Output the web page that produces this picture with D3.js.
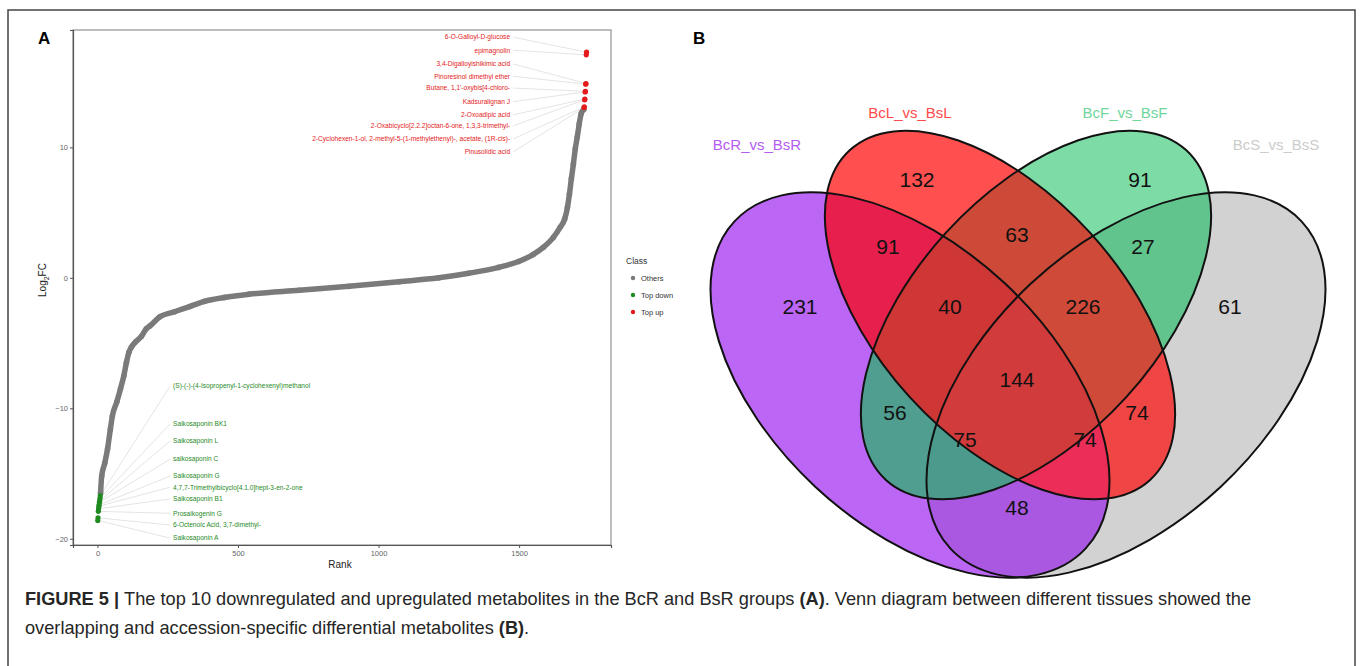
<!DOCTYPE html>
<html>
<head>
<meta charset="utf-8">
<script src="https://d3js.org/d3.v7.min.js"></script>
<style>
  body { margin: 0; background: #fff; }
  text { font-family: "Liberation Sans", Arial, sans-serif; }
</style>
</head>
<body>
<script>
// ---------- panel A data ----------
// ranked log2FC of "Others" (points along the S curve)
let otherRank = [11, 15, 26, 36, 46, 53, 69, 82, 94, 103, 112, 121, 136, 156, 174, 186, 221, 274, 328, 381,
                 452, 540, 718, 895, 1073, 1214, 1321, 1427, 1498, 1551, 1587, 1622, 1647, 1662, 1672,
                 1679, 1686, 1693, 1700, 1707, 1714, 1721, 1730];
let otherFC = [-16.5, -15.2, -14.2, -13.1, -11.6, -10.6, -9.5, -8.5, -7.5, -6.5, -5.7, -5.3, -4.9, -4.5, -3.9, -3.7,
               -3.0, -2.6, -2.2, -1.8, -1.5, -1.25, -0.95, -0.65, -0.3, 0, 0.35, 0.8, 1.25, 1.8, 2.35, 3.1,
               3.9, 4.5, 5.4, 6.4, 7.6, 8.7, 9.9, 10.8, 11.8, 12.6, 12.9];

let downNames = ["(S)-(-)-(4-Isopropenyl-1-cyclohexenyl)methanol", "Saikosaponin BK1", "Saikosaponin L",
                 "saikosaponin C", "Saikosaponin G", "4,7,7-Trimethylbicyclo[4.1.0]hept-3-en-2-one",
                 "Saikosaponin B1", "Prosaikogenin G", "6-Octenoic Acid, 3,7-dimethyl-", "Saikosaponin A"];
let downRank = [10, 9, 8, 7, 6, 5, 4, 3, 2, 1];
let downFC = [-16.7, -16.9, -17.1, -17.2, -17.4, -17.5, -17.7, -17.9, -18.4, -18.6];
let downLabelFC = [-8.3, -11.2, -12.5, -13.9, -15.2, -16.05, -16.95, -18.05, -18.95, -19.95];

let upNames = ["6-O-Galloyl-D-glucose", "epimagnolin", "3,4-Digalloylshikimic acid", "Pinoresinol dimethyl ether",
               "Butane, 1,1'-oxybis[4-chloro-", "Kadsuralignan J", "2-Oxoadipic acid",
               "2-Oxabicyclo[2.2.2]octan-6-one, 1,3,3-trimethyl-",
               "2-Cyclohexen-1-ol, 2-methyl-5-(1-methylethenyl)-, acetate, (1R-cis)-", "Pinusolidic acid"];
let upRank = [1740, 1739, 1738, 1737, 1736, 1735, 1734, 1733, 1732, 1731];
let upFC = [17.3, 17.1, 14.9, 14.85, 14.3, 14.25, 13.7, 13.65, 13.1, 13.05];
let upLabelFC = [18.45, 17.45, 16.4, 15.45, 14.55, 13.5, 12.5, 11.65, 10.65, 9.65];

let xTicks = [0, 500, 1000, 1500];
let yTicks = [-20, -10, 0, 10];
let classNames = ["Others", "Top down", "Top up"];

// ---------- panel B data ----------
let setNames = ["BcR_vs_BsR", "BcL_vs_BsL", "BcF_vs_BsF", "BcS_vs_BsS"];
let regions = ["R", "L", "F", "S", "RL", "LF", "FS", "RF", "LS", "RS", "RLF", "LFS", "RFS", "RLS", "RLFS"];
let counts = [231, 132, 91, 61, 91, 63, 27, 56, 74, 48, 40, 226, 75, 74, 144];

// ---------- styles ----------
const colOther = "#7a7a7a", colDown = "#1f8a1f", colUp = "#e41a1c";
const setColors = {R: "#bb66f5", L: "#ff4f4f", F: "#7ddca5", S: "#d2d2d2"};
const setTextColors = ["#b55cf2", "#ff4a4a", "#6fd69c", "#cccccc"];
const regionColors = {
  RL: "#e61f4d", LF: "#cd4a38", FS: "#62c48d", RF: "#4f9e8f", LS: "#ef4545", RS: "#aa58e2",
  RLF: "#cf3636", LFS: "#cf4a38", RFS: "#4c9a8c", RLS: "#ec2d57", RLFS: "#d23b3b"
};

let svg = d3.select("body").append("svg")
  .attr("width", 1360)
  .attr("height", 666);

// outer figure frame
svg.append("path")
  .attr("d", "M8,666V10H1355V666")
  .attr("fill", "none")
  .attr("stroke", "#444")
  .attr("stroke-width", 1.5);

// panel letters
svg.append("text").attr("x", 38).attr("y", 44).attr("font-size", 17).attr("font-weight", "bold").text("A");
svg.append("text").attr("x", 693).attr("y", 44).attr("font-size", 17).attr("font-weight", "bold").text("B");

// ================= PANEL A =================
let x = d3.scaleLinear().domain([-87, 1827]).range([73, 611]);
let y = d3.scaleLinear().domain([-20.48, 19.0]).range([545, 30]);

let gA = svg.append("g");

gA.append("rect")
  .attr("x", 73).attr("y", 30).attr("width", 538).attr("height", 515)
  .attr("fill", "#fff").attr("stroke", "#9a9a9a").attr("stroke-width", 1.3);

let xAxis = gA.append("g").attr("transform", "translate(0,545)")
  .call(d3.axisBottom(x).tickValues(xTicks).tickFormat(d3.format("d")).tickSize(3).tickPadding(3));
let yAxis = gA.append("g").attr("transform", "translate(73,0)")
  .call(d3.axisLeft(y).tickValues(yTicks).tickFormat(d3.format("d")).tickSize(3).tickPadding(2));
[xAxis, yAxis].forEach(ax => {
  ax.select(".domain").attr("stroke", "#555").attr("stroke-width", 1.2);
  ax.selectAll(".tick line").attr("stroke", "#555");
  ax.selectAll(".tick text").attr("fill", "#666").attr("font-size", 7.5)
    .attr("font-family", "Liberation Sans, Arial, sans-serif");
});

gA.append("text").attr("x", 340).attr("y", 568).attr("text-anchor", "middle")
  .attr("font-size", 10).attr("fill", "#222").text("Rank");

let yt = gA.append("text").attr("transform", "translate(46,280) rotate(-90)")
  .attr("text-anchor", "middle").attr("font-size", 10).attr("fill", "#222");
yt.append("tspan").text("Log");
yt.append("tspan").attr("font-size", 7).attr("dy", 3).text("2");
yt.append("tspan").attr("dy", -3).text("FC");

// connector segments
let labelEndRank = 1468, labelStartRank = 269;
upNames.forEach((n, i) => {
  gA.append("line")
    .attr("x1", x(labelEndRank) + 3).attr("y1", y(upLabelFC[i]))
    .attr("x2", x(upRank[i])).attr("y2", y(upFC[i]))
    .attr("stroke", "#d8d8d8").attr("stroke-width", 0.7);
});
downNames.forEach((n, i) => {
  gA.append("line")
    .attr("x1", x(labelStartRank) - 3).attr("y1", y(downLabelFC[i]))
    .attr("x2", x(downRank[i])).attr("y2", y(downFC[i]))
    .attr("stroke", "#d8d8d8").attr("stroke-width", 0.7);
});

// the "Others" band
let otherPts = otherRank.map((r, i) => [r, otherFC[i]]);
let line = d3.line().x(d => x(d[0])).y(d => y(d[1])).curve(d3.curveMonotoneX);
gA.append("path").datum(otherPts)
  .attr("d", line)
  .attr("fill", "none").attr("stroke", colOther).attr("stroke-width", 5.5)
  .attr("stroke-linecap", "round").attr("stroke-linejoin", "round");
gA.selectAll("circle.other").data(otherPts).join("circle")
  .attr("class", "other")
  .attr("cx", d => x(d[0])).attr("cy", d => y(d[1])).attr("r", 2.8).attr("fill", colOther);

gA.selectAll("circle.down").data(downRank).join("circle")
  .attr("class", "down")
  .attr("cx", d => x(d)).attr("cy", (d, i) => y(downFC[i])).attr("r", 2.6).attr("fill", colDown);
gA.selectAll("circle.up").data(upRank).join("circle")
  .attr("class", "up")
  .attr("cx", d => x(d)).attr("cy", (d, i) => y(upFC[i])).attr("r", 2.6).attr("fill", colUp);

// labels
gA.selectAll("text.up").data(upNames).join("text")
  .attr("class", "up")
  .attr("x", x(labelEndRank)).attr("y", (d, i) => y(upLabelFC[i]))
  .attr("dy", "0.35em").attr("text-anchor", "end")
  .attr("font-size", 6.6).attr("fill", colUp).text(d => d);
gA.selectAll("text.down").data(downNames).join("text")
  .attr("class", "down")
  .attr("x", x(labelStartRank)).attr("y", (d, i) => y(downLabelFC[i]))
  .attr("dy", "0.35em")
  .attr("font-size", 6.6).attr("fill", colDown).text(d => d);

// legend
let leg = svg.append("g").attr("transform", "translate(626,0)");
leg.append("text").attr("x", 0).attr("y", 264).attr("font-size", 8.5).attr("fill", "#333").text("Class");
[colOther, colDown, colUp].forEach((c, i) => {
  leg.append("circle").attr("cx", 7).attr("cy", 278 + i * 17).attr("r", 2.2).attr("fill", c);
  leg.append("text").attr("x", 15).attr("y", 278 + i * 17).attr("dy", "0.35em")
    .attr("font-size", 7.5).attr("fill", "#333").text(classNames[i]);
});

// ================= PANEL B =================
const axisX = 1018;
const ellR = {cx: 910, cy: 385, a: 240, b: 139, ang: 43};
const ellL = {cx: 1000, cy: 315, a: 223, b: 122, ang: 47.7};
const mirror = e => ({cx: 2 * axisX - e.cx, cy: e.cy, a: e.a, b: e.b, ang: 180 - e.ang});
const ells = {R: ellR, L: ellL, F: mirror(ellL), S: mirror(ellR)};

let defs = svg.append("defs");
Object.keys(ells).forEach(k => {
  let e = ells[k];
  defs.append("clipPath").attr("id", "clip" + k)
    .append("ellipse")
    .attr("cx", 0).attr("cy", 0).attr("rx", e.a).attr("ry", e.b)
    .attr("transform", `translate(${e.cx},${e.cy}) rotate(${e.ang})`);
});

let gB = svg.append("g");
function paint(keys, color) {
  let g = gB;
  keys.split("").forEach(k => { g = g.append("g").attr("clip-path", `url(#clip${k})`); });
  g.append("rect").attr("x", 680).attr("y", 60).attr("width", 680).attr("height", 540).attr("fill", color);
}
["R", "L", "F", "S"].forEach(k => paint(k, setColors[k]));
Object.keys(regionColors).sort((a, b) => a.length - b.length).forEach(k => paint(k, regionColors[k]));

Object.keys(ells).forEach(k => {
  let e = ells[k];
  gB.append("ellipse")
    .attr("cx", 0).attr("cy", 0).attr("rx", e.a).attr("ry", e.b)
    .attr("transform", `translate(${e.cx},${e.cy}) rotate(${e.ang})`)
    .attr("fill", "none").attr("stroke", "#111").attr("stroke-width", 2);
});

// count label placement (layout only)
const countPos = {
  R: [800, 307], L: [917, 180], F: [1140, 180], S: [1230, 307],
  RL: [888, 247], LF: [1017, 235], FS: [1143, 247], RF: [895, 413], LS: [1137, 413], RS: [1017, 508],
  RLF: [950, 307], LFS: [1083, 307], RFS: [965, 440], RLS: [1085, 440], RLFS: [1017, 380]
};
regions.forEach((r, i) => {
  gB.append("text").attr("x", countPos[r][0]).attr("y", countPos[r][1]).attr("dy", "0.35em")
    .attr("text-anchor", "middle").attr("font-size", 21).attr("fill", "#111").text(counts[i]);
});

const setLabelPos = [[757, 145], [910, 113], [1125, 113], [1276, 145]];
setNames.forEach((n, i) => {
  gB.append("text").attr("x", setLabelPos[i][0]).attr("y", setLabelPos[i][1]).attr("dy", "0.35em")
    .attr("text-anchor", "middle").attr("font-size", 15).attr("fill", setTextColors[i]).text(n);
});

// ================= caption =================
let cap1 = svg.append("text").attr("x", 25).attr("y", 605).attr("font-size", 18.2).attr("fill", "#262626");
cap1.append("tspan").attr("font-weight", "bold").text("FIGURE 5 | ");
cap1.append("tspan").text("The top 10 downregulated and upregulated metabolites in the BcR and BsR groups ");
cap1.append("tspan").attr("font-weight", "bold").text("(A)");
cap1.append("tspan").text(". Venn diagram between different tissues showed the");
let cap2 = svg.append("text").attr("x", 25).attr("y", 634).attr("font-size", 18.2).attr("fill", "#262626");
cap2.append("tspan").text("overlapping and accession-specific differential metabolites ");
cap2.append("tspan").attr("font-weight", "bold").text("(B)");
cap2.append("tspan").text(".");
</script>
</body>
</html>
